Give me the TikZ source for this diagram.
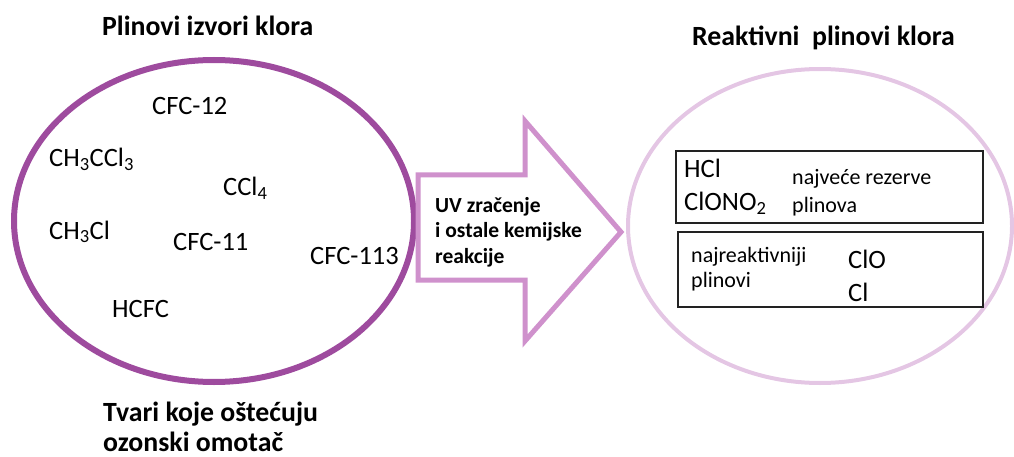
\documentclass[tikz,border=0pt]{standalone}
\usepackage{fontspec}
\setmainfont{Carlito}
\definecolor{darkpurple}{HTML}{9E4B9E}
\definecolor{midpurple}{HTML}{CF91CC}
\definecolor{lightpurple}{HTML}{E4C6E4}
\definecolor{boxline}{HTML}{222222}
\tikzset{
  title/.style={font=\fontsize{27.8}{33}\selectfont\bfseries, anchor=base west, inner sep=0pt, align=left},
  chem/.style={font=\fontsize{26.5}{32}\selectfont, anchor=base west, inner sep=0pt},
  note/.style={font=\fontsize{22}{27}\selectfont, anchor=base west, inner sep=0pt},
  arrowtext/.style={font=\fontsize{21.5}{26}\selectfont\bfseries, anchor=base west, inner sep=0pt},
  infobox/.style={draw=boxline, line width=1.6pt},
}
\begin{document}
\begin{tikzpicture}[x=1pt,y=-1pt]
\useasboundingbox (0,0) rectangle (1014,457);
% left ellipse
\draw[darkpurple, line width=6pt] (214,221) ellipse [x radius=200, y radius=161];
% right ellipse
\draw[lightpurple, line width=4pt] (820,226) ellipse [x radius=192, y radius=157];
% arrow
\draw[midpurple, line width=5pt, line join=miter, fill=white]
  (418,175) -- (525,175) -- (525,121) -- (621,232) -- (525,341) -- (525,280) -- (418,280) -- cycle;
% titles
\node[title] (t1) at (102,36) {Plinovi izvori klora};
\node[title] (t2) at (103,421) {Tvari koje oštećuju};
\node[title] (t3) at (103,451) {ozonski omotač};
\node[title] (t4) at (692,46) {Reaktivni\ \ plinovi klora};
% molecules left
\node[chem] (m1) at (152,115) {CFC-12};
\node[chem] (m2) at (49,167) {CH\textsubscript{3}CCl\textsubscript{3}};
\node[chem] (m3) at (223,196) {CCl\textsubscript{4}};
\node[chem] (m4) at (49,239) {CH\textsubscript{3}Cl};
\node[chem] (m5) at (173,250) {CFC-11};
\node[chem] (m6) at (310,264) {CFC-113};
\node[chem] (m7) at (112,317) {HCFC};
% arrow text
\node[arrowtext] (a1) at (435,212) {UV zračenje};
\node[arrowtext] (a2) at (435,237) {i ostale kemijske};
\node[arrowtext] (a3) at (435,263) {reakcije};
% boxes
\draw[infobox] (676,151) rectangle (983,223);
\draw[infobox] (678,232) rectangle (983,307);
\node[chem] (r1) at (684,178) {HCl};
\node[chem] (r2) at (684,211) {ClONO\textsubscript{2}};
\node[note] (n1) at (792,185) {najveće rezerve};
\node[note] (n2) at (792,212) {plinova};
\node[note] (n3) at (691,262) {najreaktivniji};
\node[note] (n4) at (691,287) {plinovi};
\node[chem] (r3) at (848,268) {ClO};
\node[chem] (r4) at (848,301) {Cl};
\end{tikzpicture}
\end{document}
